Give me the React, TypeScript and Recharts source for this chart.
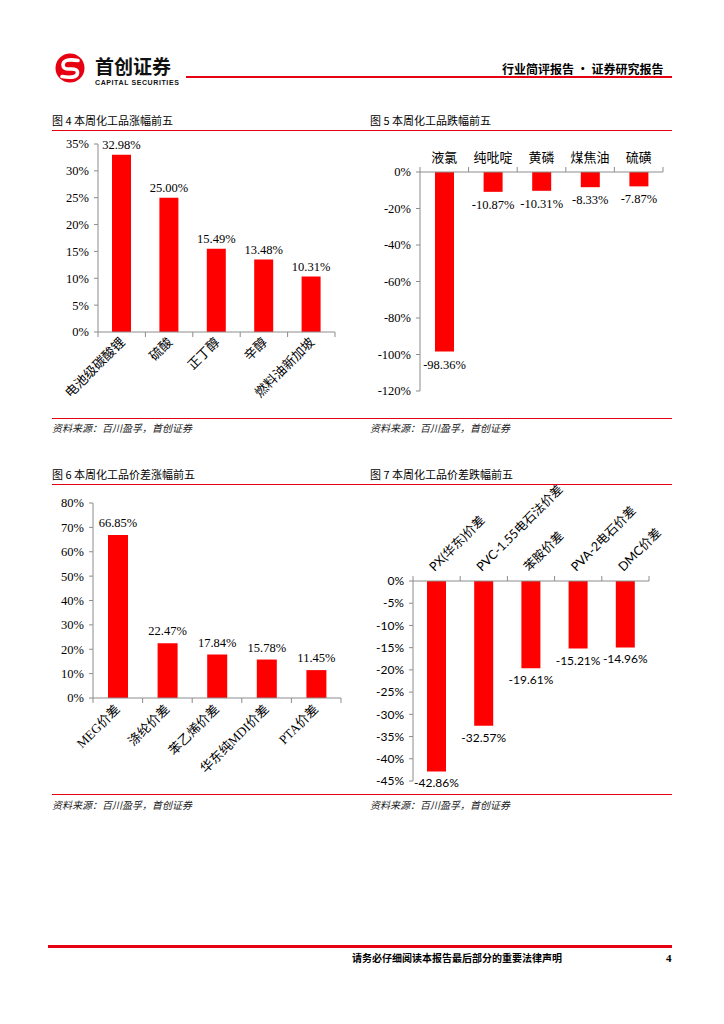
import React from "react";
import { BarChart, Bar, XAxis, YAxis, LabelList } from "recharts";

// 图4 涨幅前五
const riseNames = ["电池级碳酸锂", "硫酸", "正丁醇", "辛醇", "燃料油新加坡"];
const riseValues = [32.98, 25.0, 15.49, 13.48, 10.31];
const riseTicks = [0, 5, 10, 15, 20, 25, 30, 35];

// 图5 跌幅前五
const fallNames = ["液氯", "纯吡啶", "黄磷", "煤焦油", "硫磺"];
const fallValues = [-98.36, -10.87, -10.31, -8.33, -7.87];
const fallTicks = [-120, -100, -80, -60, -40, -20, 0];

// 图6 价差涨幅前五
const spreadUpNames = ["MEG价差", "涤纶价差", "苯乙烯价差", "华东纯MDI价差", "PTA价差"];
const spreadUpValues = [66.85, 22.47, 17.84, 15.78, 11.45];
const spreadUpTicks = [0, 10, 20, 30, 40, 50, 60, 70, 80];

// 图7 价差跌幅前五
const spreadDownNames = ["PX(华东)价差", "PVC-1.55电石法价差", "苯胺价差", "PVA-2电石价差", "DMC价差"];
const spreadDownValues = [-42.86, -32.57, -19.61, -15.21, -14.96];
const spreadDownTicks = [-45, -40, -35, -30, -25, -20, -15, -10, -5, 0];

const SERIF = "'Liberation Serif', 'Noto Sans CJK SC', serif";
const SANS = "Lato, 'Noto Sans CJK SC', sans-serif";
const CJK = "'Noto Sans CJK SC', sans-serif";
const RED = "#FF0000";
const AXIS = "#8c8c8c";

const toRows = (names: string[], values: number[]) =>
  names.map((name, i) => ({ name, value: values[i] }));

// category tick: boundary tick marks + (rotated) label
const makeTick =
  (o: {
    step: number;
    side: "top" | "bottom";
    rotate: boolean;
    font: string;
    size: number;
    dx: number;
    dy: number;
    anchor: "start" | "middle" | "end";
  }) =>
  (props: any) => {
    const { x, y, payload, index } = props;
    const dir = o.side === "bottom" ? 1 : -1;
    const tx = x + o.dx;
    const ty = y + o.dy;
    return (
      <g>
        <line x1={x - o.step / 2} x2={x - o.step / 2} y1={y} y2={y + dir * 5} stroke={AXIS} />
        {index === 4 && (
          <line x1={x + o.step / 2} x2={x + o.step / 2} y1={y} y2={y + dir * 5} stroke={AXIS} />
        )}
        <text
          x={tx}
          y={ty}
          textAnchor={o.anchor}
          fontFamily={o.font}
          fontSize={o.size}
          fill="#000"
          transform={o.rotate ? `rotate(-45 ${tx} ${ty})` : undefined}
        >
          {payload.value}
        </text>
      </g>
    );
  };

const makeLabel = (font: string, size: number, below: boolean, gap: number) => (props: any) => {
  const { x, y, width, height, value } = props;
  const top = Math.min(y, y + height);
  const bottom = Math.max(y, y + height);
  return (
    <text
      x={x + width / 2}
      y={below ? bottom + gap : top - gap}
      textAnchor="middle"
      fontFamily={font}
      fontSize={size}
      fill="#000"
    >
      {Number(value).toFixed(2)}%
    </text>
  );
};

const pct = (v: number) => `${v}%`;

const Line = ({ x1, x2, y, h = 1 }: { x1: number; x2: number; y: number; h?: number }) => (
  <div style={{ position: "absolute", left: x1, top: y, width: x2 - x1, height: h, background: "#E60012" }} />
);

const Txt = ({ x, y, children, style }: any) => (
  <div style={{ position: "absolute", left: x, top: y, whiteSpace: "nowrap", lineHeight: 1, ...style }}>{children}</div>
);

const titleStyle = { fontFamily: CJK, fontSize: 11, color: "#000" };
const srcStyle = { fontFamily: CJK, fontSize: 10, fontStyle: "italic", color: "#222" };

export default function App() {
  return (
    <div style={{ position: "absolute", left: 0, top: 0, width: 724, height: 1024, background: "#fff" }}>
      {/* header */}
      <svg style={{ position: "absolute", left: 54, top: 52 }} width={32} height={32}>
        <circle cx={16} cy={16} r={14.5} fill="#E60012" />
        <path
          d="M24 8.5 Q9 6 9 13 Q9 17.5 16 17 Q24 16.5 23.5 21 Q23 27 8 24.5"
          fill="none"
          stroke="#fff"
          strokeWidth={3.6}
          strokeLinecap="round"
        />
      </svg>
      <Txt x={95} y={56} style={{ fontFamily: CJK, fontSize: 19, fontWeight: 700, color: "#111" }}>
        首创证券
      </Txt>
      <Txt
        x={95}
        y={78.5}
        style={{ fontFamily: "'Liberation Sans', sans-serif", fontSize: 7, fontWeight: 700, letterSpacing: 0.6, color: "#111" }}
      >
        CAPITAL SECURITIES
      </Txt>
      <Line x1={186} x2={672} y={76} h={2} />
      <Txt x={502} y={63} style={{ fontFamily: CJK, fontSize: 12, fontWeight: 700, color: "#000" }}>
        行业简评报告 · 证券研究报告
      </Txt>

      {/* row 1 titles */}
      <Txt x={52} y={115} style={titleStyle}>图 4 本周化工品涨幅前五</Txt>
      <Txt x={370} y={115} style={titleStyle}>图 5 本周化工品跌幅前五</Txt>
      <Line x1={52} x2={672} y={130} />

      {/* 图4 */}
      <div style={{ position: "absolute", left: 48, top: 135 }}>
        <BarChart width={305} height={285} data={toRows(riseNames, riseValues)} margin={{ top: 9, right: 18, left: 0, bottom: 0 }}>
          <XAxis
            dataKey="name"
            height={88}
            tickSize={0}
            tickMargin={0}
            tickLine={false}
            axisLine={{ stroke: AXIS }}
            interval={0}
            tick={makeTick({ step: 47.4, side: "bottom", rotate: true, font: CJK, size: 13, dx: 4, dy: 11, anchor: "end" })}
          />
          <YAxis
            type="number"
            domain={[0, 35]}
            ticks={riseTicks}
            width={50}
            tickSize={4}
            tickMargin={5}
            interval={0}
            tickFormatter={pct}
            tick={{ fontFamily: SERIF, fontSize: 12.5, fill: "#000" }}
            axisLine={{ stroke: AXIS }}
            tickLine={{ stroke: AXIS }}
          />
          <Bar dataKey="value" fill={RED} barSize={19} isAnimationActive={false}>
            <LabelList dataKey="value" content={makeLabel(SERIF, 12.5, false, 6)} />
          </Bar>
        </BarChart>
      </div>

      {/* 图5 */}
      <div style={{ position: "absolute", left: 365, top: 140 }}>
        <BarChart width={305} height={260} data={toRows(fallNames, fallValues)} margin={{ top: 2, right: 7, left: 0, bottom: 9 }}>
          <XAxis
            dataKey="name"
            orientation="top"
            height={30}
            tickSize={0}
            tickMargin={0}
            tickLine={false}
            axisLine={{ stroke: AXIS }}
            interval={0}
            tick={makeTick({ step: 48.6, side: "top", rotate: false, font: CJK, size: 13, dx: 0, dy: -10, anchor: "middle" })}
          />
          <YAxis
            type="number"
            domain={[-120, 0]}
            ticks={fallTicks}
            width={55}
            tickSize={4}
            tickMargin={5}
            interval={0}
            tickFormatter={pct}
            tick={{ fontFamily: SERIF, fontSize: 12.5, fill: "#000" }}
            axisLine={{ stroke: AXIS }}
            tickLine={{ stroke: AXIS }}
          />
          <Bar dataKey="value" fill={RED} barSize={19} isAnimationActive={false}>
            <LabelList dataKey="value" content={makeLabel(SERIF, 12.5, true, 17)} />
          </Bar>
        </BarChart>
      </div>

      <Line x1={52} x2={672} y={418} />
      <Txt x={52} y={423} style={srcStyle}>资料来源：百川盈孚，首创证券</Txt>
      <Txt x={370} y={423} style={srcStyle}>资料来源：百川盈孚，首创证券</Txt>

      {/* row 2 titles */}
      <Txt x={52} y={469} style={titleStyle}>图 6 本周化工品价差涨幅前五</Txt>
      <Txt x={370} y={469} style={titleStyle}>图 7 本周化工品价差跌幅前五</Txt>
      <Line x1={52} x2={672} y={484} />

      {/* 图6 */}
      <div style={{ position: "absolute", left: 45, top: 495 }}>
        <BarChart width={305} height={290} data={toRows(spreadUpNames, spreadUpValues)} margin={{ top: 8, right: 9, left: 0, bottom: 0 }}>
          <XAxis
            dataKey="name"
            height={87}
            tickSize={0}
            tickMargin={0}
            tickLine={false}
            axisLine={{ stroke: AXIS }}
            interval={0}
            tick={makeTick({ step: 49.6, side: "bottom", rotate: true, font: SERIF, size: 13, dx: 3, dy: 12, anchor: "end" })}
          />
          <YAxis
            type="number"
            domain={[0, 80]}
            ticks={spreadUpTicks}
            width={48}
            tickSize={4}
            tickMargin={5}
            interval={0}
            tickFormatter={pct}
            tick={{ fontFamily: SERIF, fontSize: 12.5, fill: "#000" }}
            axisLine={{ stroke: AXIS }}
            tickLine={{ stroke: AXIS }}
          />
          <Bar dataKey="value" fill={RED} barSize={20} isAnimationActive={false}>
            <LabelList dataKey="value" content={makeLabel(SERIF, 12.5, false, 8)} />
          </Bar>
        </BarChart>
      </div>

      {/* 图7 */}
      <div style={{ position: "absolute", left: 365, top: 478 }}>
        <BarChart width={300} height={312} data={toRows(spreadDownNames, spreadDownValues)} margin={{ top: 13, right: 16, left: 0, bottom: 9 }}>
          <XAxis
            dataKey="name"
            orientation="top"
            height={90}
            tickSize={0}
            tickMargin={0}
            tickLine={false}
            axisLine={{ stroke: AXIS }}
            interval={0}
            tick={makeTick({ step: 47.2, side: "top", rotate: true, font: SANS, size: 12.5, dx: -2, dy: -9, anchor: "start" })}
          />
          <YAxis
            type="number"
            domain={[-45, 0]}
            ticks={spreadDownTicks}
            width={48}
            tickSize={4}
            tickMargin={5}
            interval={0}
            tickFormatter={pct}
            tick={{ fontFamily: SANS, fontSize: 12, fill: "#000" }}
            axisLine={{ stroke: AXIS }}
            tickLine={{ stroke: AXIS }}
          />
          <Bar dataKey="value" fill={RED} barSize={19} isAnimationActive={false}>
            <LabelList dataKey="value" content={makeLabel(SANS, 12, true, 16)} />
          </Bar>
        </BarChart>
      </div>

      <Line x1={52} x2={672} y={794} />
      <Txt x={52} y={800} style={srcStyle}>资料来源：百川盈孚，首创证券</Txt>
      <Txt x={370} y={800} style={srcStyle}>资料来源：百川盈孚，首创证券</Txt>

      {/* footer */}
      <Line x1={48} x2={672} y={945} h={3} />
      <Txt x={352} y={953} style={{ fontFamily: CJK, fontSize: 10, fontWeight: 700, color: "#000" }}>
        请务必仔细阅读本报告最后部分的重要法律声明
      </Txt>
      <Txt x={666} y={953} style={{ fontFamily: SERIF, fontSize: 11, fontWeight: 700, color: "#000" }}>
        4
      </Txt>
    </div>
  );
}
